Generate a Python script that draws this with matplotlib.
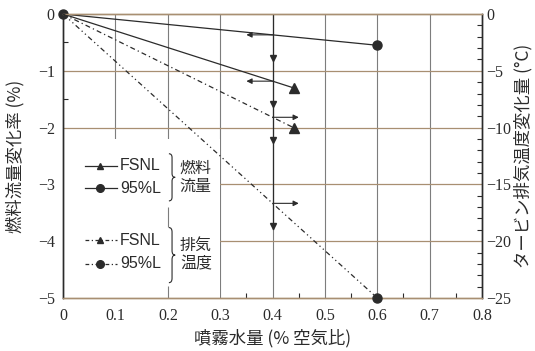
import numpy as np
import matplotlib.pyplot as plt
from matplotlib.path import Path
from matplotlib.patches import PathPatch, Rectangle

# spray water (% of air flow) vs. change in fuel flow (%) and exhaust temperature (degC)
water_fsnl = [0.0, 0.44]
water_95 = [0.0, 0.6]
fuel_fsnl = [0.0, -1.3]
fuel_95 = [0.0, -0.55]
exh_fsnl = [0.0, -10.0]
exh_95 = [0.0, -25.0]

x_ticks = [0, 0.1, 0.2, 0.3, 0.4, 0.5, 0.6, 0.7, 0.8]
x_labels = ['0', '0.1', '0.2', '0.3', '0.4', '0.5', '0.6', '0.7', '0.8']
fuel_ticks = [0, -1, -2, -3, -4, -5]
exh_ticks = [0, -5, -10, -15, -20, -25]
read_x = 0.4

JP = ['Noto Sans CJK JP', 'DejaVu Sans']
SERIF = 'Liberation Serif'
INK = '#2b2b2b'
HGRID = '#a88f72'
VGRID = '#7d7d7d'


def minus(v):
    return '0' if v == 0 else '\u2212%d' % abs(v)


def brace(ax, x, y1, y2, w):
    '''Right-pointing curly bracket between y1 (top) and y2 (bottom).'''
    ym = (y1 + y2) / 2
    d = 0.08 * (y1 - y2)
    xm = x + w / 2
    verts = [(x, y1), (xm, y1), (xm, y1 - d), (xm, ym + d), (xm, ym), (x + w, ym),
             (xm, ym), (xm, ym - d), (xm, y2 + d), (xm, y2), (x, y2)]
    codes = [Path.MOVETO, Path.CURVE3, Path.CURVE3, Path.LINETO, Path.CURVE3, Path.CURVE3,
             Path.CURVE3, Path.CURVE3, Path.LINETO, Path.CURVE3, Path.CURVE3]
    ax.add_patch(PathPatch(Path(verts, codes), fill=False, lw=0.8, ec=INK, zorder=6))


fig = plt.figure(figsize=(5.35, 3.51), dpi=100)
ax = fig.add_axes([0.118, 0.151, 0.783, 0.809])
ax2 = ax.twinx()

ax.set_xlim(0, 0.8)
ax.set_ylim(-5, 0)
ax2.set_ylim(-25, 0)

# grid
for x in x_ticks[1:-1]:
    ax.axvline(x, color=VGRID, lw=0.8, zorder=1)
for y in fuel_ticks[1:-1]:
    ax.axhline(y, color=HGRID, lw=0.9, zorder=1)

# blank area behind the key
ax.add_patch(Rectangle((0, -5), 0.3, 2.8, fc='white', ec='none', zorder=2))
ax.vlines([0.2, 0.2], [-3.75, -5.0], [-3.4, -4.78], color=VGRID, lw=0.8, zorder=2)

# fuel flow on the left axis
ax.plot(water_fsnl, fuel_fsnl, '-', color=INK, lw=0.9, marker='^', ms=7,
        markevery=[1], zorder=4)
ax.plot(water_95, fuel_95, '-', color=INK, lw=0.9, marker='o', ms=6.5,
        markevery=[1], zorder=4)
ax.plot([0], [0], 'o', color=INK, ms=6.5, zorder=5, clip_on=False)

# exhaust temperature on the right axis
ax2.plot(water_fsnl, exh_fsnl, color=INK, lw=0.9, ls=(0, (4, 2.5, 1, 2.5)),
         marker='^', ms=7, markevery=[1], zorder=4)
ax2.plot(water_95, exh_95, color=INK, lw=0.9, ls=(0, (4, 2.5, 1, 2.5, 1, 2.5)),
         marker='o', ms=6.5, markevery=[1], zorder=4, clip_on=False)

# read-off guide at x = 0.4
hits = [
    (np.interp(read_x, water_95, fuel_95), -1),
    (np.interp(read_x, water_fsnl, fuel_fsnl), -1),
    (np.interp(read_x, water_fsnl, exh_fsnl) / 5, 1),
    (np.interp(read_x, water_95, exh_95) / 5, 1),
]
ax.plot([read_x, read_x], [0, hits[-1][0] - 0.45], color=INK, lw=0.9, zorder=3)
for y, side in hits:
    ax.annotate('', xy=(read_x + side * 0.05, y), xytext=(read_x, y),
                arrowprops=dict(arrowstyle='-|>', color=INK, lw=0.8,
                                mutation_scale=8, shrinkA=0, shrinkB=0), zorder=5)
    ax.plot(read_x, y - 0.4, 'v', color=INK, ms=4.5, zorder=5)

# key
rows = [(-2.67, '-', '^', 'FSNL'), (-3.07, '-', 'o', '95%L'),
        (-3.98, (0, (3, 2, 1, 2)), '^', 'FSNL'), (-4.40, (0, (3, 2, 1, 2)), 'o', '95%L')]
for y, ls, mk, label in rows:
    ax.plot([0.042, 0.103], [y, y], color=INK, lw=0.9, ls=ls, zorder=6)
    ax.plot(0.071, y, mk, color=INK, ms=5 if mk == '^' else 5.5, zorder=6)
    ax.text(0.109, y, label, ha='left', va='center', fontsize=11.5,
            family='Liberation Sans', color=INK, zorder=6)
brace(ax, 0.202, -2.46, -3.29, 0.012)
brace(ax, 0.202, -3.76, -4.73, 0.012)
ax.text(0.223, -2.87, '燃料\n流量', ha='left', va='center', fontsize=11.5,
        family=JP, color=INK, linespacing=1.1, zorder=6)
ax.text(0.223, -4.24, '排気\n温度', ha='left', va='center', fontsize=11.5,
        family=JP, color=INK, linespacing=1.1, zorder=6)

# ticks and spines
ax.set_xticks(x_ticks)
ax.set_xticklabels(x_labels, family=SERIF, fontsize=11.5, color=INK)
ax.set_xticks(np.arange(0.05, 0.8, 0.1), minor=True)
ax.set_yticks(fuel_ticks)
ax.set_yticklabels([minus(v) for v in fuel_ticks], family=SERIF, fontsize=11.5, color=INK)
ax.set_yticks(np.arange(-4.5, 0, 1.0), minor=True)
ax2.set_yticks(exh_ticks)
ax2.set_yticklabels([minus(v) for v in exh_ticks], family=SERIF, fontsize=11.5, color=INK)
ax2.set_yticks(np.arange(-24, 0, 1), minor=True)

ax.tick_params(which='both', direction='in', color=INK, width=0.8, top=False)
ax.tick_params(which='major', length=0)
ax.tick_params(which='minor', length=3.5)
ax.tick_params(axis='x', pad=7)
ax.tick_params(axis='y', pad=6)
ax2.tick_params(which='both', direction='in', color=INK, width=0.8)
ax2.tick_params(which='major', length=0, pad=3)
ax2.tick_params(which='minor', length=3.5)

for a in (ax, ax2):
    a.spines['left'].set_color(INK)
    a.spines['right'].set_color(INK)
    a.spines['top'].set_color(HGRID)
    a.spines['bottom'].set_color(HGRID)
    for s in a.spines.values():
        s.set_linewidth(1.0)

ax.set_xlabel('噴霧水量 (% 空気比)', family=JP, fontsize=12.5, color=INK)
ax.xaxis.set_label_coords(0.5, -0.11)
ax.set_ylabel('燃料流量変化率 (%)', family=JP, fontsize=12.5, color=INK)
ax.yaxis.set_label_coords(-0.092, 0.5)
ax2.set_ylabel('タービン排気温度変化量 (°C)', family=JP, fontsize=12.5, color=INK, rotation=90)
ax2.yaxis.set_label_coords(1.076, 0.5)

fig.savefig('out.png', dpi=100)
